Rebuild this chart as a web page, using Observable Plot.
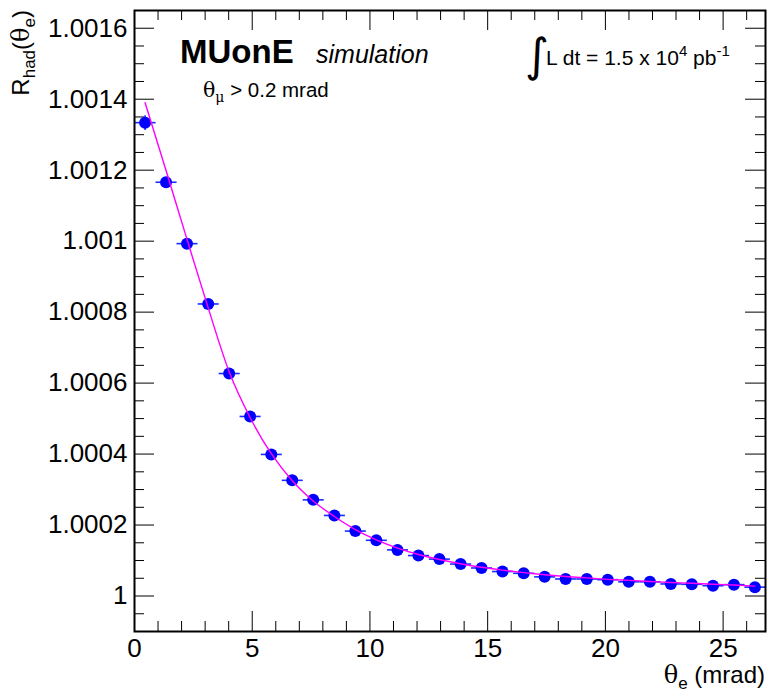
<!DOCTYPE html>
<html><head><meta charset="utf-8">
<script src="https://cdn.jsdelivr.net/npm/d3@7"></script>
<script src="https://cdn.jsdelivr.net/npm/@observablehq/plot@0.6"></script>
<style>
body{margin:0;background:#fff;}
#chart{width:767px;height:695px;}
</style></head><body><div id="chart"></div>
<script>
// ---- data ----
const binCenters = [0.45,1.34,2.23,3.13,4.02,4.91,5.81,6.70,7.59,8.49,9.38,10.27,11.17,12.06,12.95,13.85,14.74,15.63,16.53,17.42,18.31,19.21,20.10,20.99,21.89,22.78,23.67,24.57,25.46,26.35];
const binHalfWidth = 0.447;
const rhadValues = [1.001334,1.001166,1.000993,1.000823,1.000627,1.000506,1.000399,1.000326,1.000271,1.000227,1.000183,1.000157,1.000130,1.000114,1.000104,1.000090,1.000079,1.000069,1.000064,1.000054,1.000048,1.000048,1.000046,1.000040,1.000040,1.000034,1.000033,1.000029,1.000032,1.000025];
const rhadErrors = [0.000021,0.000012,0.000012,0.000012,0.000012,0.000012,0.000012,0.000012,0.000012,0.000012,0.000012,0.000012,0.000012,0.000012,0.000012,0.000012,0.000012,0.000012,0.000012,0.000012,0.000012,0.000012,0.000012,0.000012,0.000012,0.000012,0.000012,0.000012,0.000012,0.000012];
const fitX = [0.45,1.34,2.23,3.13,4.02,4.91,5.81,6.70,7.59,8.49,9.38,10.27,11.17,12.06,12.95,13.85,14.74,15.63,16.53,17.42,18.31,19.21,20.10,20.99,21.89,22.78,23.67,24.57,25.46,26.35];
const fitY = [1.001390,1.001199,1.001005,1.000812,1.000632,1.000503,1.000401,1.000325,1.000268,1.000224,1.000187,1.000158,1.000135,1.000117,1.000103,1.000091,1.000081,1.000073,1.000066,1.000060,1.000055,1.000051,1.000047,1.000044,1.000041,1.000038,1.000036,1.000033,1.000031,1.000028];
const xMajorTicks = [0,5,10,15,20,25];
const xTickLabels = ["0","5","10","15","20","25"];
const yMajorTicks = [1,1.0002,1.0004,1.0006,1.0008,1.001,1.0012,1.0014,1.0016];
const yTickLabels = ["1","1.0002","1.0004","1.0006","1.0008","1.001","1.0012","1.0014","1.0016"];
const xDomain = [0, 26.8];
const yDomain = [0.99990, 1.00165];

// ---- derived tables ----
const points = binCenters.map((x,i)=>({x, y: rhadValues[i], e: rhadErrors[i]}));
const fit = fitX.map((x,i)=>({x, y: fitY[i]}));
const xMinorTicks = d3.range(0, 27, 1).filter(v => !xMajorTicks.includes(v));
const yMinorTicks = d3.range(0, 35).map(k => +(0.9999 + k*0.00005).toFixed(6)).filter(v => v >= yDomain[0] && v <= yDomain[1] && !yMajorTicks.some(m => Math.abs(m - v) < 1e-9));

const W = 767, H = 695, mL = 134, mR = 2, mT = 10, mB = 64;
const fW = W - mL - mR, fH = H - mT - mB;
const MAJ = 20, MIN = 10;
const font = "'Liberation Sans', Arial, Helvetica, sans-serif";

const plot = Plot.plot({
  width: W, height: H,
  marginLeft: mL, marginRight: mR, marginTop: mT, marginBottom: mB,
  x: {domain: xDomain},
  y: {domain: yDomain},
  style: {fontFamily: font, fontSize: "26px", color: "black", background: "white"},
  marks: [
    Plot.axisX({ticks: xMajorTicks, tickSize: 0, tickPadding: 7, fontSize: 26, label: null,
      tickFormat: d => xTickLabels[xMajorTicks.indexOf(d)]}),
    Plot.axisY({ticks: yMajorTicks, tickSize: 0, tickPadding: 7, fontSize: 26, label: null,
      tickFormat: d => yTickLabels[yMajorTicks.findIndex(m => Math.abs(m - d) < 1e-9)]}),
    // ROOT-style inward ticks on all four sides
    Plot.tickX(xMajorTicks, {x: d => d, insetTop: fH - MAJ, stroke: "black"}),
    Plot.tickX(xMinorTicks, {x: d => d, insetTop: fH - MIN, stroke: "black"}),
    Plot.tickX(xMajorTicks, {x: d => d, insetBottom: fH - MAJ, stroke: "black"}),
    Plot.tickX(xMinorTicks, {x: d => d, insetBottom: fH - MIN, stroke: "black"}),
    Plot.tickY(yMajorTicks, {y: d => d, insetRight: fW - MAJ, stroke: "black"}),
    Plot.tickY(yMinorTicks, {y: d => d, insetRight: fW - MIN, stroke: "black"}),
    Plot.tickY(yMajorTicks, {y: d => d, insetLeft: fW - MAJ, stroke: "black"}),
    Plot.tickY(yMinorTicks, {y: d => d, insetLeft: fW - MIN, stroke: "black"}),
    // error bars
    Plot.link(points, {x1: d => d.x - binHalfWidth, x2: d => d.x + binHalfWidth, y1: "y", y2: "y", stroke: "#1a2cff", strokeWidth: 1.6, clip: true}),
    Plot.link(points, {x1: "x", x2: "x", y1: d => d.y - d.e, y2: d => d.y + d.e, stroke: "#1a2cff", strokeWidth: 1.6, clip: true}),
    Plot.dot(points, {x: "x", y: "y", r: 6, fill: "#0000ff", stroke: null}),
    // fit
    Plot.line(fit, {x: "x", y: "y", stroke: "#ff00ff", strokeWidth: 1.4, curve: "monotone-x"}),
    Plot.frame({stroke: "black", strokeWidth: 2})
  ]
});
document.getElementById("chart").appendChild(plot);

// ---- rich-text annotations ----
const svg = d3.select(plot);
const serif = "'DejaVu Serif', 'Liberation Serif', serif";
function rich(x, y, size, parts, attrs = {}) {
  const t = svg.append("text").attr("x", x).attr("y", y)
    .attr("font-family", font).attr("font-size", size).attr("fill", "black")
    .attr("text-anchor", "start");
  for (const [k, v] of Object.entries(attrs)) t.attr(k, v);
  let shift = 0;
  for (const p of parts) {
    const s = t.append("tspan").text(p.t);
    const target = p.dy || 0;
    if (target !== shift) { s.attr("dy", target - shift); shift = target; }
    if (p.size) s.attr("font-size", p.size);
    if (p.family) s.attr("font-family", p.family);
    if (p.weight) s.attr("font-weight", p.weight);
    if (p.style) s.attr("font-style", p.style);
  }
  return t;
}
// y title
rich(0, 0, 24, [
  {t: "R"}, {t: "had", size: 17, dy: 6}, {t: "(", dy: 0}, {t: "θ", family: serif}, {t: "e", size: 17, dy: 6}, {t: ")", dy: 0}
], {transform: `translate(29,${mT}) rotate(-90)`, "text-anchor": "end"});
// x title
rich(W - 2, 683, 24, [
  {t: "θ", family: serif}, {t: "e", size: 17, dy: 6}, {t: " (mrad)", dy: 0}
], {"text-anchor": "end"});
// MUonE simulation
rich(180, 63, 33, [{t: "MUonE", weight: "bold"}]);
rich(316, 63, 25, [{t: "simulation", style: "italic"}]);
// cut
rich(203, 97, 20.5, [{t: "θ", family: serif}, {t: "μ", family: serif, size: 14, dy: 5}, {t: " > 0.2 mrad", dy: 0}]);
// luminosity
rich(525, 71, 46, [{t: "∫", family: "'DejaVu Sans', sans-serif"}]);
rich(546, 65, 21, [{t: "L dt = 1.5 x 10"}, {t: "4", size: 15, dy: -9}, {t: " pb", dy: 0}, {t: "-1", size: 15, dy: -9}]);
</script></body></html>
